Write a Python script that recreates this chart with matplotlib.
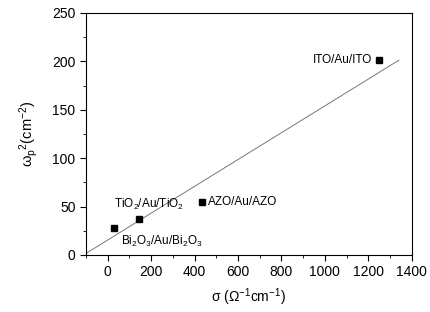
import numpy as np
import matplotlib
matplotlib.use("Agg")
import matplotlib.pyplot as plt
from matplotlib.ticker import MultipleLocator

plt.rcParams["font.family"] = ["Liberation Sans", "DejaVu Sans"]
plt.rcParams["mathtext.fontset"] = "custom"
plt.rcParams["mathtext.rm"] = "Liberation Sans"
plt.rcParams["mathtext.it"] = "Liberation Sans"

# data
names = [r"Bi$_2$O$_3$/Au/Bi$_2$O$_3$", r"TiO$_2$/Au/TiO$_2$", "AZO/Au/AZO", "ITO/Au/ITO"]
sigma = [30, 145, 435, 1250]
omega2 = [28, 37, 55, 201]
fit_x = [-100, 1340]
fit_slope = 0.1385
fit_icpt = 15.5

fig = plt.figure(figsize=(4.31, 3.12), dpi=100)
ax = fig.add_axes([0.1995, 0.1827, 0.756, 0.776])

fx = np.array(fit_x)
ax.plot(fx, fit_slope * fx + fit_icpt, color="#777777", lw=0.7)
ax.plot(sigma, omega2, "s", color="black", ms=4.5, ls="none")

# labels next to the points
offs = [(30, -14), (-115, 15), (26, 0), (-34, 0)]
has = ["left", "left", "left", "right"]
for n, x, y, (dx, dy), ha in zip(names, sigma, omega2, offs, has):
    ax.text(x + dx, y + dy, n, ha=ha, va="center", fontsize=8.5)

ax.set_xlim(-100, 1400)
ax.set_ylim(0, 250)
ax.xaxis.set_major_locator(MultipleLocator(200))
ax.xaxis.set_minor_locator(MultipleLocator(100))
ax.yaxis.set_major_locator(MultipleLocator(50))
ax.yaxis.set_minor_locator(MultipleLocator(25))
ax.tick_params(which="both", direction="out", labelsize=10, top=False, right=False)
ax.tick_params(which="major", length=4)
ax.tick_params(which="minor", length=2.5)

ax.set_xlabel(r"σ (Ω$^{-1}$cm$^{-1}$)", fontsize=10, labelpad=5)
ax.set_ylabel(r"ω$_p$$^{2}$(cm$^{-2}$)", fontsize=10.5, labelpad=9)

fig.savefig("out.png", dpi=100)
